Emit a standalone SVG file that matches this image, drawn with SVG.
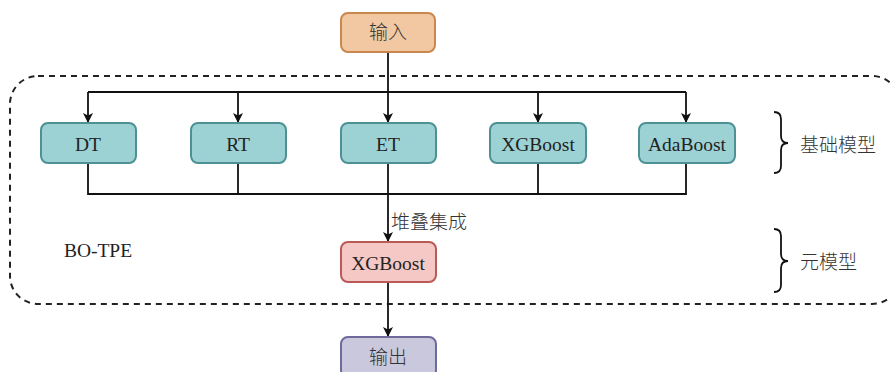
<svg xmlns="http://www.w3.org/2000/svg" width="890" height="372" viewBox="0 0 890 372">
  <defs>
    <marker id="arrow" viewBox="0 0 10 10" refX="10" refY="5" markerWidth="10" markerHeight="10" markerUnits="userSpaceOnUse" orient="auto">
      <path d="M0,0 L10,5 L0,10 L2.5,5 Z" fill="#111"/>
    </marker>
    <style>
      .latin { font-family: "Liberation Serif", "Times New Roman", serif; font-size: 19.5px; fill: #222; text-anchor: middle; }
      .cjk { font-family: "Noto Sans CJK SC", "Noto Sans", sans-serif; font-size: 19px; font-weight: 300; fill: #333; }
      .base rect { fill: #9dd2d5; stroke: #4d9195; stroke-width: 2; }
      .line { fill: none; stroke: #111; stroke-width: 1.8; }
      .brace { fill: none; stroke: #111; stroke-width: 1.8; }
    </style>
  </defs>

  <!-- dashed frame around the ensemble -->
  <rect id="frame" x="10" y="76" width="890" height="228" rx="28" ry="28" fill="none" stroke="#222" stroke-width="2" stroke-dasharray="6,5"/>

  <!-- connectors -->
  <g id="connectors">
    <path class="line" d="M388,52 V123" marker-end="url(#arrow)"/>
    <path class="line" d="M88,92 H686"/>
    <path class="line" d="M88,92 V123" marker-end="url(#arrow)"/>
    <path class="line" d="M238,92 V123" marker-end="url(#arrow)"/>
    <path class="line" d="M538,92 V123" marker-end="url(#arrow)"/>
    <path class="line" d="M686,92 V123" marker-end="url(#arrow)"/>
    <path class="line" d="M88,163 V194 H686 V163"/>
    <path class="line" d="M238,163 V194"/>
    <path class="line" d="M538,163 V194"/>
    <path class="line" d="M388,163 V242" marker-end="url(#arrow)"/>
    <path class="line" d="M388,282 V337" marker-end="url(#arrow)"/>
  </g>
  <text class="cjk" x="391" y="229">堆叠集成</text>

  <g id="input">
    <rect x="341" y="13" width="94" height="39" rx="7" fill="#f2c8a2" stroke="#c8874e" stroke-width="2"/>
    <text class="cjk" x="388" y="39" text-anchor="middle">输入</text>
  </g>

  <g id="dt" class="base">
    <rect x="41" y="123" width="95" height="40" rx="7"/>
    <text class="latin" x="88" y="151">DT</text>
  </g>
  <g id="rt" class="base">
    <rect x="191" y="123" width="95" height="40" rx="7"/>
    <text class="latin" x="238" y="151">RT</text>
  </g>
  <g id="et" class="base">
    <rect x="341" y="123" width="95" height="40" rx="7"/>
    <text class="latin" x="388" y="151">ET</text>
  </g>
  <g id="xgboost-base" class="base">
    <rect x="490" y="123" width="96" height="40" rx="7"/>
    <text class="latin" x="538" y="151">XGBoost</text>
  </g>
  <g id="adaboost" class="base">
    <rect x="639" y="123" width="96" height="40" rx="7"/>
    <text class="latin" x="687" y="151">AdaBoost</text>
  </g>

  <g id="xgboost-meta">
    <rect x="341" y="242" width="95" height="40" rx="7" fill="#f5c8c6" stroke="#b85a55" stroke-width="2"/>
    <text class="latin" x="388" y="270">XGBoost</text>
  </g>

  <g id="output">
    <rect x="341" y="337" width="95" height="40" rx="7" fill="#c9c8dd" stroke="#6e6a9c" stroke-width="2"/>
    <text class="cjk" x="388" y="364" text-anchor="middle">输出</text>
  </g>

  <g id="bo-tpe">
    <text class="latin" x="98" y="257">BO-TPE</text>
  </g>

  <!-- braces and their labels -->
  <g id="base-models-label">
    <path class="brace" d="M774,112 Q781,112 781,119 V136 Q781,143 788,143 Q781,143 781,150 V166 Q781,173 774,173"/>
    <text class="cjk" x="800" y="152">基础模型</text>
  </g>
  <g id="meta-model-label">
    <path class="brace" d="M774,229 Q781,229 781,236 V254 Q781,261 788,261 Q781,261 781,268 V285 Q781,292 774,292"/>
    <text class="cjk" x="800" y="269">元模型</text>
  </g>
</svg>
